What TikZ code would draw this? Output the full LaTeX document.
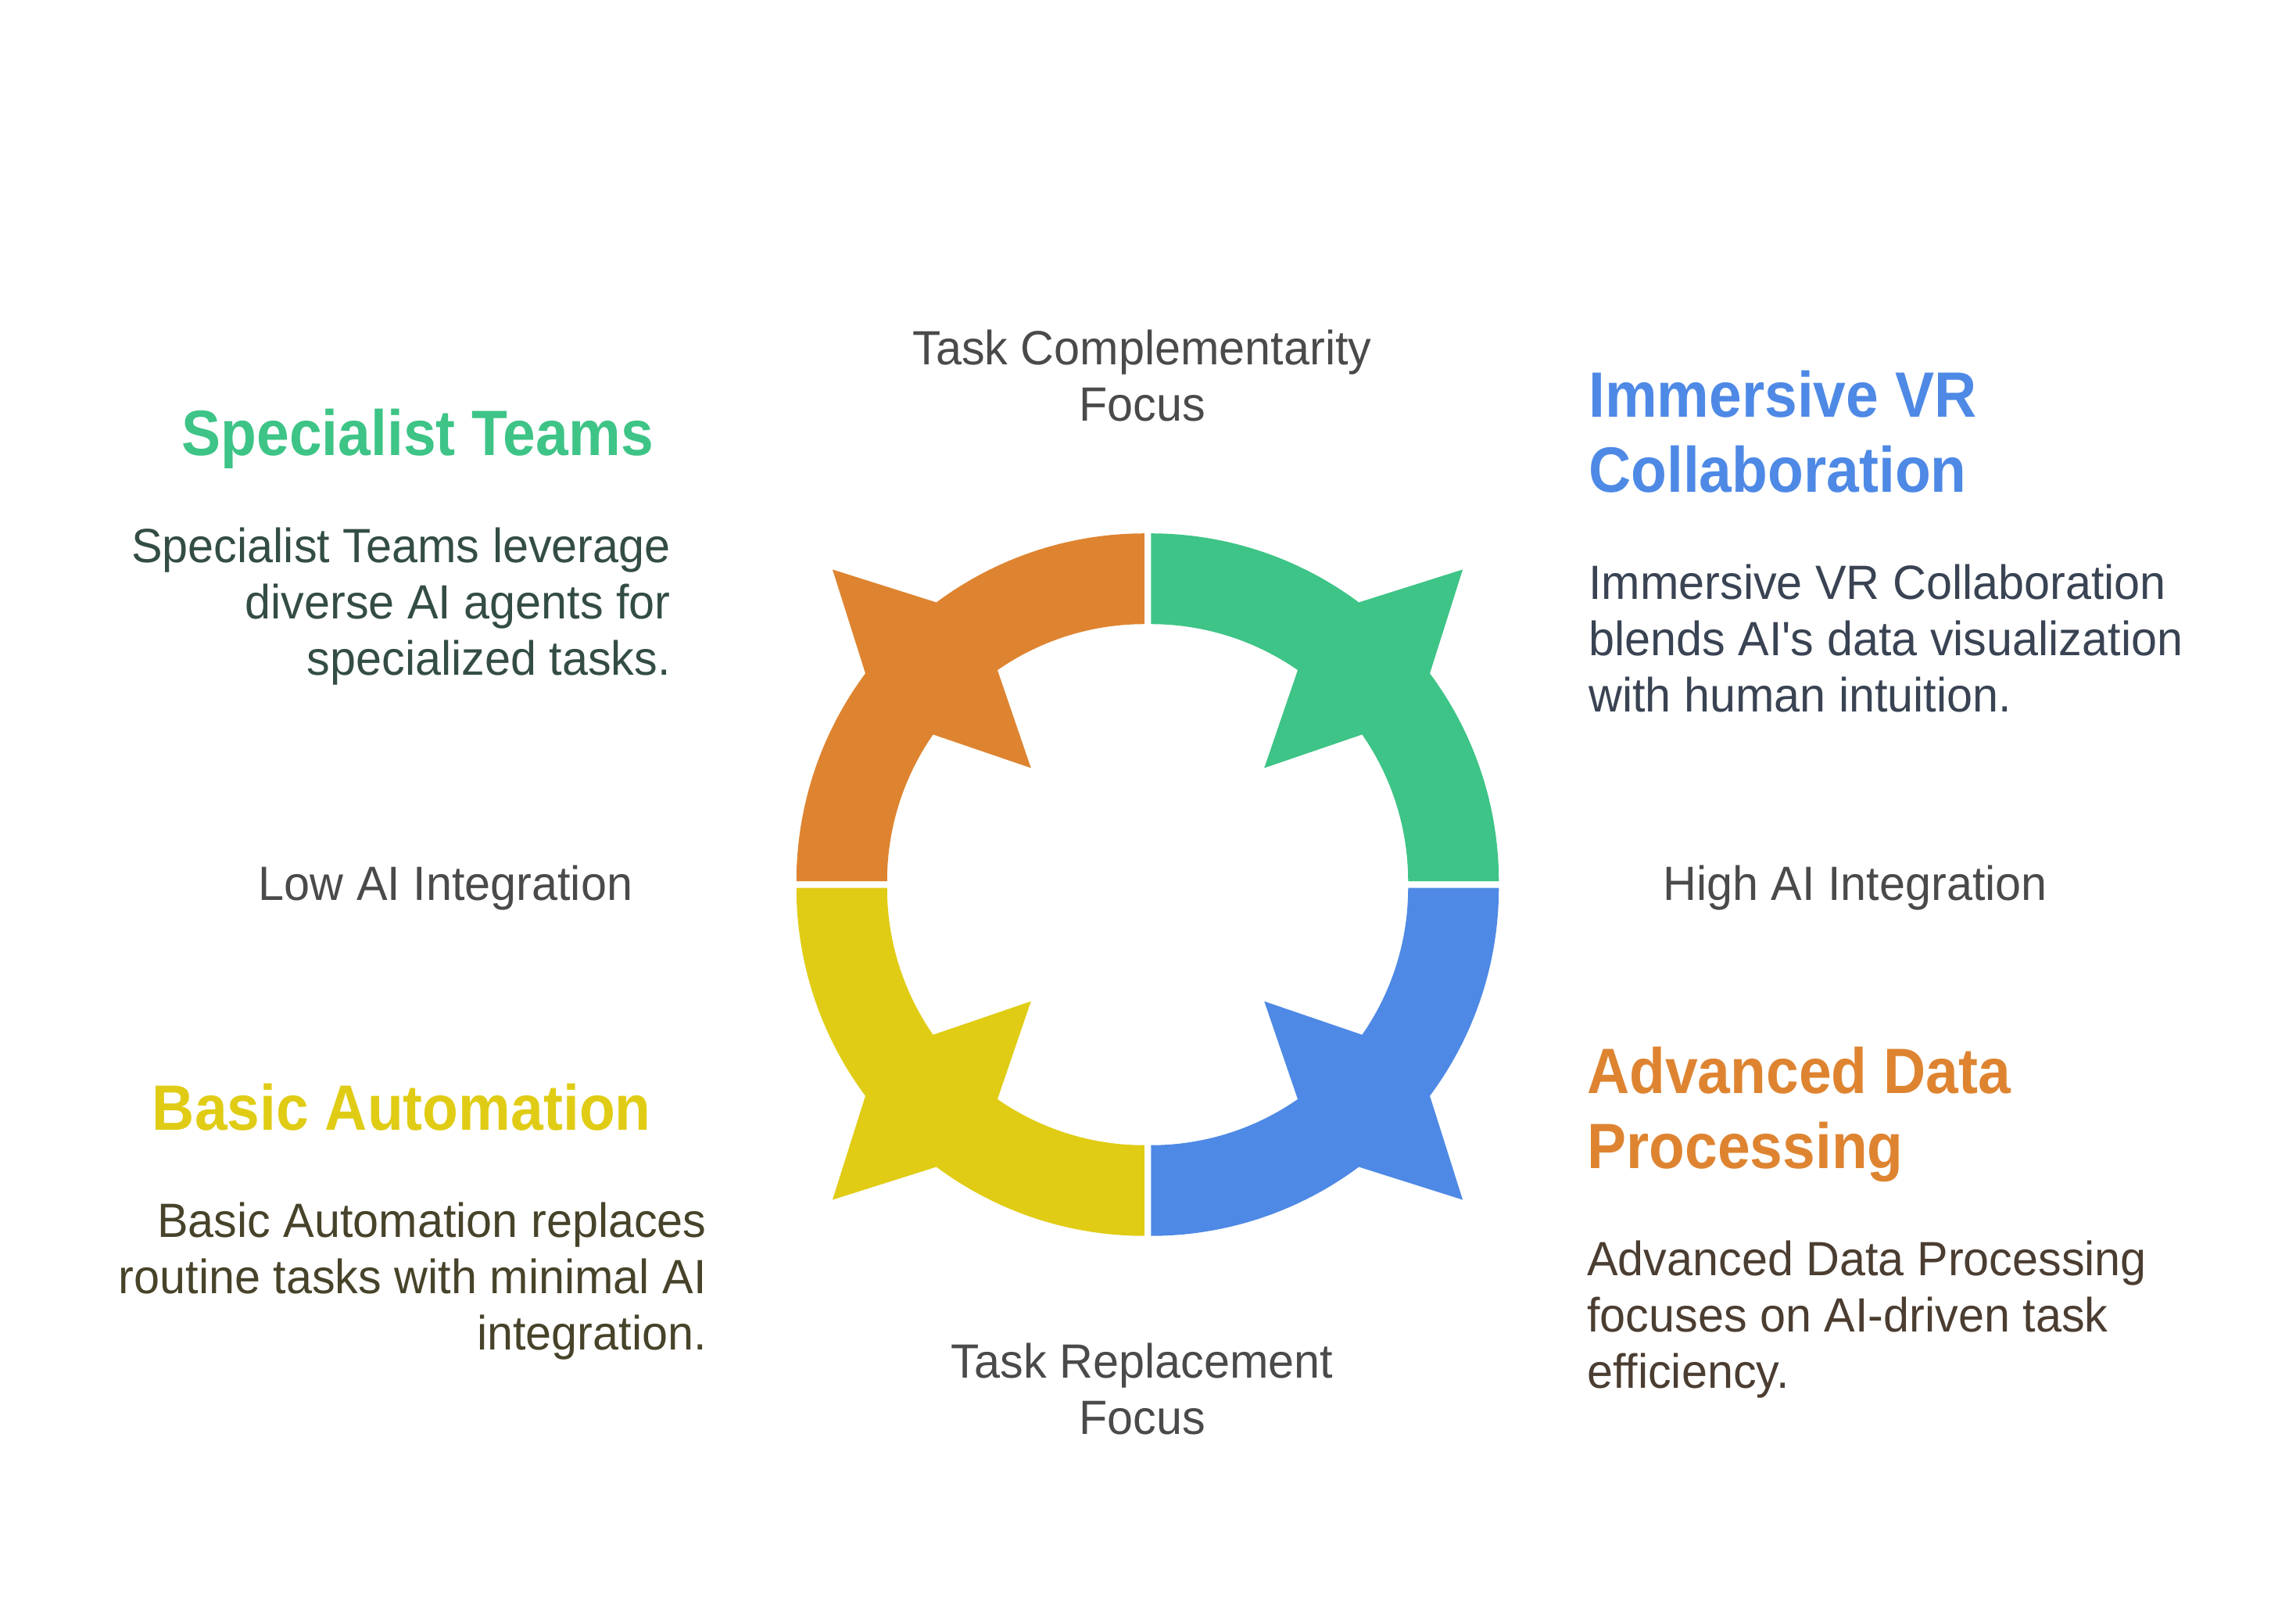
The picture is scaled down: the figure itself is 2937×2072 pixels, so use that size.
\documentclass[tikz,border=0pt]{standalone}
\usepackage{fontspec}
\usepackage{tikz}
\usetikzlibrary{positioning}
\newfontfamily\bodyfont{Liberation Sans}[FakeStretch=0.965]
\newfontfamily\headfont{Liberation Sans}[FakeStretch=0.915]

\definecolor{segGreen}{HTML}{3DC486}
\definecolor{segOrange}{HTML}{DE8431}
\definecolor{segYellow}{HTML}{E0CC15}
\definecolor{segBlue}{HTML}{4E89E5}
\definecolor{txtAxis}{HTML}{4A4A4A}
\definecolor{txtGreen}{HTML}{334D43}
\definecolor{txtBlue}{HTML}{394353}
\definecolor{txtYellow}{HTML}{47432A}
\definecolor{txtOrange}{HTML}{4B3D31}

\begin{document}
\begin{tikzpicture}[x=1pt, y=1pt, every node/.style={inner sep=0pt},
  axislabel/.style={font=\bodyfont\fontsize{61.5}{71.7}\selectfont, text=txtAxis, align=center},
  title/.style={font=\headfont\bfseries\fontsize{82}{96.5}\selectfont},
  desc/.style={font=\bodyfont\fontsize{61.5}{71.7}\selectfont}]
  \useasboundingbox (0,0) rectangle (2937,2072);
  \coordinate (ctr) at (1468,940.5);

  % ring of four segments, each with its spikes on the diagonal
  \begin{scope}[shift={(ctr)}]
    \foreach \ang/\col/\sx/\sy in {45/segGreen/1/1, 135/segOrange/-1/1, 225/segYellow/-1/-1, 315/segBlue/1/-1}
      \fill[\col, shift={(\sx*4.25,\sy*4.25)}]
        ({\ang-45}:445) arc[start angle=\ang-45, end angle=\ang-8.3, radius=445pt]
        -- (\ang:564) -- ({\ang+8.3}:445)
        arc[start angle=\ang+8.3, end angle=\ang+45, radius=445pt]
        -- ({\ang+45}:329) arc[start angle=\ang+45, end angle=\ang+10.2, radius=329pt]
        -- (\ang:205) -- ({\ang-10.2}:329)
        arc[start angle=\ang-10.2, end angle=\ang-45, radius=329pt] -- cycle;
  \end{scope}

  % axis labels (base = last line)
  \node[axislabel, anchor=base] (topLbl) at (1461,1533.6) {Task Complementarity\\Focus};
  \node[axislabel, anchor=base] (botLbl) at (1461,237.6) {Task Replacement\\Focus};
  \node[axislabel, anchor=base] (lowLbl) at (570,920.3) {Low AI Integration};
  \node[axislabel, anchor=base] (highLbl) at (2373,920.3) {High AI Integration};

  % quadrant titles
  \node[title, text=segGreen, anchor=base east] (specHead) at (836,1489.3) {Specialist Teams};
  \node[title, text=segBlue, anchor=base west, align=left] (vrHead) at (2032,1442.2) {Immersive VR\\Collaboration};
  \node[title, text=segYellow, anchor=base east] (basicHead) at (833,626) {Basic Automation};
  \node[title, text=segOrange, anchor=base west, align=left] (advHead) at (2030,577.2) {Advanced Data\\Processing};

  % descriptions
  \node[desc, text=txtGreen, anchor=base east, align=right] (specBody) at (858,1208.6)
    {Specialist Teams leverage\\diverse AI agents for\\specialized tasks.};
  \node[desc, text=txtBlue, anchor=base west, align=left] (vrBody) at (2032,1161.9)
    {Immersive VR Collaboration\\blends AI's data visualization\\with human intuition.};
  \node[desc, text=txtYellow, anchor=base east, align=right] (basicBody) at (904,345.9)
    {Basic Automation replaces\\routine tasks with minimal AI\\integration.};
  \node[desc, text=txtOrange, anchor=base west, align=left] (advBody) at (2030,296.9)
    {Advanced Data Processing\\focuses on AI-driven task\\efficiency.};
\end{tikzpicture}
\end{document}
